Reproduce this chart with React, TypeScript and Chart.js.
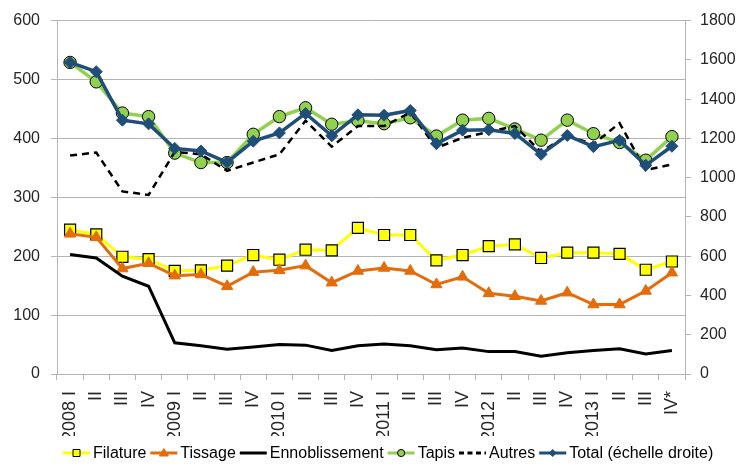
import React, { useEffect, useRef } from 'react';
import { Chart, registerables } from 'chart.js';
Chart.register(...registerables);

const categories = ['2008 I', 'II', 'III', 'IV', '2009 I', 'II', 'III', 'IV', '2010 I', 'II', 'III', 'IV', '2011 I', 'II', 'III', 'IV', '2012 I', 'II', 'III', 'IV', '2013 I', 'II', 'III', 'IV*'];

const filature = [245, 237, 199, 195, 175, 176, 184, 202, 194, 211, 210, 248, 236, 236, 193, 202, 217, 220, 197, 206, 206, 204, 177, 191];
const tissage = [238, 232, 179, 188, 167, 169, 149, 173, 176, 184, 155, 175, 180, 175, 152, 165, 137, 132, 124, 138, 118, 118, 141, 172];
const ennoblissement = [203, 197, 166, 149, 53, 48, 42, 46, 50, 49, 40, 48, 51, 48, 41, 44, 38, 38, 30, 36, 40, 43, 34, 40];
const tapis = [529, 496, 443, 437, 375, 359, 359, 407, 437, 452, 424, 430, 425, 435, 404, 431, 434, 416, 397, 431, 408, 393, 363, 403];
const autres = [371, 376, 310, 304, 377, 373, 345, 359, 373, 430, 386, 421, 421, 444, 384, 401, 411, 421, 377, 405, 390, 426, 346, 356];
const total = [1587, 1540, 1293, 1274, 1149, 1136, 1078, 1186, 1228, 1327, 1213, 1320, 1318, 1342, 1173, 1242, 1244, 1225, 1119, 1215, 1158, 1190, 1063, 1160];

const leftTicks = [0, 100, 200, 300, 400, 500, 600];
const rightTicks = [0, 200, 400, 600, 800, 1000, 1200, 1400, 1600, 1800];

const FONT = "'Liberation Sans', Arial, sans-serif";
const GRID = '#b4b4b4';
const TEXT = '#262626';

function drawMarker(ctx: CanvasRenderingContext2D, style: string, x: number, y: number, fill: string, stroke: string) {
  ctx.save();
  ctx.setLineDash([]);
  ctx.fillStyle = fill;
  ctx.strokeStyle = stroke;
  ctx.lineWidth = 1;
  ctx.beginPath();
  if (style === 'rect') {
    ctx.rect(x - 3.5, y - 3.5, 7, 7);
  } else if (style === 'triangle') {
    ctx.moveTo(x, y - 4.5);
    ctx.lineTo(x + 4.5, y + 3);
    ctx.lineTo(x - 4.5, y + 3);
    ctx.closePath();
  } else if (style === 'circle') {
    ctx.arc(x, y, 3.6, 0, Math.PI * 2);
  } else if (style === 'rectRot') {
    ctx.moveTo(x, y - 3.5);
    ctx.lineTo(x + 3.5, y);
    ctx.lineTo(x, y + 3.5);
    ctx.lineTo(x - 3.5, y);
    ctx.closePath();
  } else {
    ctx.restore();
    return;
  }
  ctx.fill();
  ctx.stroke();
  ctx.restore();
}

const legendPlugin = {
  id: 'customLegend',
  afterDraw(chart: any) {
    const ctx: CanvasRenderingContext2D = chart.ctx;
    ctx.save();
    ctx.font = `16px ${FONT}`;
    ctx.textBaseline = 'middle';
    ctx.textAlign = 'left';
    const y = 453;
    let x = 63;
    const symW = 27;
    chart.data.datasets.forEach((ds: any) => {
      ctx.beginPath();
      ctx.setLineDash(ds.borderDash ? [5, 3.5] : []);
      ctx.strokeStyle = ds.borderColor;
      ctx.lineWidth = 3;
      ctx.moveTo(x, y);
      ctx.lineTo(x + symW, y);
      ctx.stroke();
      ctx.setLineDash([]);
      if (ds.pointRadius > 0) {
        drawMarker(ctx, ds.pointStyle, x + symW / 2, y, ds.pointBackgroundColor, ds.pointBorderColor);
      }
      ctx.fillStyle = '#000';
      ctx.fillText(ds.label, x + symW + 3, y + 1);
      x += symW + 3 + ctx.measureText(ds.label).width + 4;
    });
    ctx.restore();
  },
};

export default function App() {
  const ref = useRef<HTMLCanvasElement | null>(null);
  useEffect(() => {
    if (!ref.current) return;
    Chart.defaults.font.family = FONT;
    const chart = new Chart(ref.current, {
      type: 'line',
      data: {
        labels: categories,
        datasets: [
          {
            label: 'Filature', data: filature, yAxisID: 'y', order: 6,
            borderColor: '#ffff00', borderWidth: 3, pointStyle: 'rect', pointRadius: 7.8,
            pointBackgroundColor: '#ffff00', pointBorderColor: '#000000', pointBorderWidth: 1.2,
          },
          {
            label: 'Tissage', data: tissage, yAxisID: 'y', order: 5,
            borderColor: '#e46c0a', borderWidth: 3, pointStyle: 'triangle', pointRadius: 6.5,
            pointBackgroundColor: '#e46c0a', pointBorderColor: '#e46c0a', pointBorderWidth: 1,
          },
          {
            label: 'Ennoblissement', data: ennoblissement, yAxisID: 'y', order: 4,
            borderColor: '#000000', borderWidth: 3, pointRadius: 0,
            pointBackgroundColor: '#000000', pointBorderColor: '#000000',
          },
          {
            label: 'Tapis', data: tapis, yAxisID: 'y', order: 3,
            borderColor: '#92d050', borderWidth: 3.5, pointStyle: 'circle', pointRadius: 6.2,
            pointBackgroundColor: '#92d050', pointBorderColor: '#000000', pointBorderWidth: 1,
          },
          {
            label: 'Autres', data: autres, yAxisID: 'y', order: 2,
            borderColor: '#000000', borderWidth: 2.5, borderDash: [7, 5], pointRadius: 0,
            pointBackgroundColor: '#000000', pointBorderColor: '#000000',
          },
          {
            label: 'Total (échelle droite)', data: total, yAxisID: 'y1', order: 1,
            borderColor: '#1f4e79', borderWidth: 3.5, pointStyle: 'rectRot', pointRadius: 6,
            pointBackgroundColor: '#1f4e79', pointBorderColor: '#1f4e79', pointBorderWidth: 1,
          },
        ] as any,
      },
      options: {
        animation: false,
        responsive: false,
        maintainAspectRatio: false,
        devicePixelRatio: 1,
        layout: { padding: { top: 19, bottom: 30, left: 0, right: 0 } },
        elements: { line: { tension: 0 } },
        plugins: { legend: { display: false }, tooltip: { enabled: false } },
        scales: {
          x: {
            type: 'category',
            offset: true,
            grid: { offset: true, drawOnChartArea: false, drawTicks: true, tickLength: 6, color: GRID },
            border: { display: true, color: GRID, width: 1 },
            ticks: {
              autoSkip: false, maxRotation: 90, minRotation: 90, padding: 11,
              color: TEXT, font: { size: 18, family: FONT },
            },
            afterFit: (s: any) => { s.height = 62; },
          },
          y: {
            position: 'left',
            min: 0, max: 600,
            afterBuildTicks: (s: any) => { s.ticks = leftTicks.map((v) => ({ value: v })); },
            grid: { color: GRID, tickLength: 6, drawTicks: true },
            border: { display: true, color: GRID, width: 1 },
            ticks: { color: TEXT, padding: 11, font: { size: 16, family: FONT }, callback: (v: any) => String(v) },
            afterFit: (s: any) => { s.width = 57; },
          },
          y1: {
            position: 'right',
            min: 0, max: 1800,
            afterBuildTicks: (s: any) => { s.ticks = rightTicks.map((v) => ({ value: v })); },
            grid: { drawOnChartArea: false, color: GRID, tickLength: 6, drawTicks: true },
            border: { display: true, color: GRID, width: 1 },
            ticks: { color: TEXT, padding: 9, font: { size: 16, family: FONT }, callback: (v: any) => String(v) },
            afterFit: (s: any) => { s.width = 54; },
          },
        },
      } as any,
      plugins: [legendPlugin],
    });
    return () => chart.destroy();
  }, []);
  return (
    <div style={{ position: 'absolute', left: 0, top: 0, width: 739, height: 466, background: '#fff' }}>
      <canvas ref={ref} width={739} height={466} style={{ display: 'block' }} />
    </div>
  );
}
